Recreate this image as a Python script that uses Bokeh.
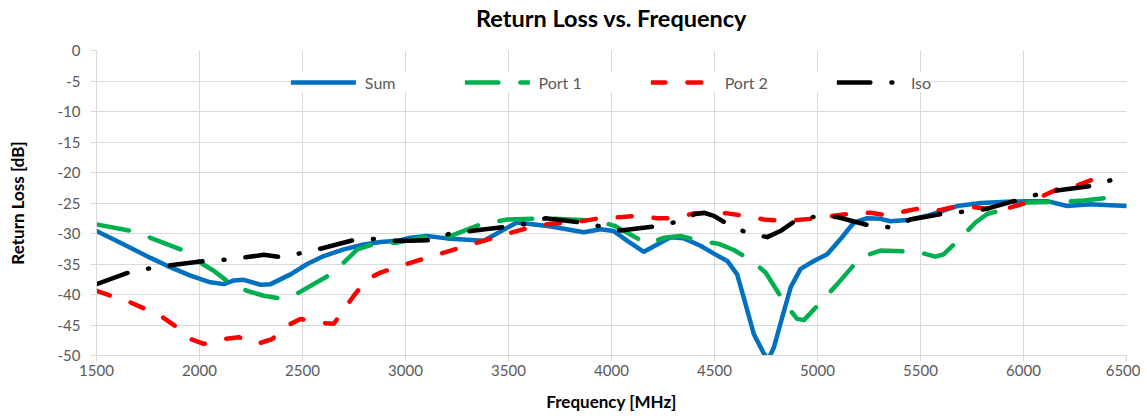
from bokeh.plotting import figure
from bokeh.models import Range1d, FixedTicker, Title
from bokeh.embed import file_html
from bokeh.resources import INLINE

# ---------------- data ----------------
x_ticks = [1500, 2000, 2500, 3000, 3500, 4000, 4500, 5000, 5500, 6000, 6500]
y_ticks = [0, -5, -10, -15, -20, -25, -30, -35, -40, -45, -50]

sum_freq = [1500, 1633, 1762, 1843, 1956, 2053, 2118, 2167, 2215, 2296,
            2345, 2442, 2523, 2603, 2700, 2797, 2879, 2960, 3024, 3105,
            3200, 3380, 3540, 3700, 3865, 3947, 4011, 4077, 4157, 4222,
            4287, 4351, 4432, 4497, 4562, 4610, 4642, 4691, 4740, 4762,
            4789, 4829, 4870, 4918, 4982, 5047, 5112, 5177, 5241, 5306,
            5354, 5435, 5532, 5678, 5791, 5920, 6018, 6115, 6212, 6325, 6500]
sum_rl = [-29.6, -31.8, -34.0, -35.3, -36.9, -38.0, -38.3, -37.7, -37.6, -38.4,
          -38.3, -36.7, -35.0, -33.7, -32.6, -31.8, -31.4, -31.2, -30.7, -30.4,
          -30.8, -31.2, -28.2, -28.8, -29.8, -29.3, -29.6, -31.2, -33.0, -31.8,
          -30.6, -30.8, -32.0, -33.3, -34.5, -36.7, -40.5, -46.5, -49.7, -50.6,
          -48.6, -43.7, -38.8, -35.8, -34.5, -33.4, -30.9, -28.2, -27.5, -27.6,
          -28.0, -27.8, -27.1, -25.5, -25.0, -24.8, -24.7, -24.7, -25.5, -25.2, -25.5]

port1_freq = [1500, 1673, 1762, 1924, 2005, 2069, 2142, 2231, 2312, 2401,
              2482, 2636, 2709, 2766, 2863, 2960, 3120, 3220, 3365, 3495,
              3670, 3930, 4019, 4173, 4254, 4335, 4432, 4521, 4594, 4683,
              4748, 4845, 4901, 4934, 5031, 5096, 5209, 5306, 5484, 5573,
              5613, 5710, 5767, 5824, 5937, 6018, 6196, 6293, 6463]
port1_rl = [-28.5, -29.6, -30.7, -32.8, -34.8, -36.1, -38.0, -39.4, -40.2, -40.7,
            -39.7, -36.7, -34.5, -32.6, -31.6, -31.5, -30.4, -30.4, -28.5, -27.7,
            -27.5, -27.9, -28.8, -31.7, -30.7, -30.4, -31.2, -31.7, -32.7, -34.5,
            -36.4, -41.6, -44.0, -44.2, -40.7, -38.3, -33.9, -32.8, -33.0, -33.8,
            -33.4, -30.2, -28.2, -26.8, -25.8, -24.9, -24.8, -24.6, -23.9]

port2_freq = [1500, 1568, 1665, 1738, 1811, 1892, 1956, 2021, 2118, 2191,
              2280, 2353, 2426, 2490, 2571, 2652, 2709, 2749, 2814, 2879,
              2976, 3024, 3120, 3220, 3300, 3460, 3540, 3625, 3705, 3815,
              3961, 4052, 4131, 4222, 4311, 4399, 4481, 4562, 4650, 4739,
              4820, 4901, 4998, 5079, 5176, 5257, 5338, 5419, 5508, 5589,
              5678, 5759, 5848, 5929, 6018, 6091, 6180, 6261, 6341, 6422]
port2_rl = [-39.4, -40.2, -41.3, -42.4, -43.5, -45.4, -47.3, -48.1, -47.3, -47.0,
            -48.1, -47.3, -45.1, -44.0, -44.6, -44.8, -42.1, -40.2, -37.5, -36.4,
            -35.3, -34.8, -33.8, -32.8, -32.0, -30.4, -29.6, -28.8, -28.4, -28.2,
            -27.4, -27.3, -27.1, -27.5, -27.5, -26.7, -26.7, -26.7, -27.1, -27.7,
            -27.9, -27.8, -27.5, -27.1, -26.7, -26.6, -27.0, -26.4, -25.8, -26.2,
            -25.5, -25.7, -26.0, -25.8, -24.9, -23.9, -22.5, -22.1, -21.1, -20.4]

iso_freq = [1500, 1665, 1759, 1859, 2029, 2126, 2223, 2312, 2401, 2494,
            2587, 2757, 2858, 2951, 3024, 3129, 3218, 3315, 3485, 3590,
            3680, 3850, 3955, 4044, 4222, 4316, 4408, 4448, 4497, 4570,
            4659, 4756, 4820, 4901, 4998, 5095, 5265, 5362, 5451, 5621,
            5718, 5816, 5985, 6078, 6171, 6350, 6438]
iso_rl = [-38.3, -36.3, -35.7, -35.2, -34.5, -34.3, -33.9, -33.5, -33.9, -33.2,
          -32.5, -31.0, -30.9, -31.2, -31.2, -31.1, -30.0, -29.6, -28.9, -28.4,
          -27.5, -28.2, -28.9, -29.5, -28.8, -28.1, -26.8, -26.6, -27.1, -28.6,
          -29.9, -30.6, -29.6, -27.7, -27.2, -27.3, -28.8, -29.0, -27.7, -26.7,
          -26.4, -26.0, -24.4, -23.5, -22.9, -22.1, -21.1]

series_names = ["Sum", "Port 1", "Port 2", "Iso"]

# ---------------- figure ----------------
FONT = "Lato"
GRID = "#d9d9d9"
TXT = "#595959"

p = figure(width=1140, height=419, output_backend="svg", toolbar_location=None,
           x_range=Range1d(1500, 6500), y_range=Range1d(-50, 0),
           min_border_left=96, min_border_right=14, min_border_top=49, min_border_bottom=64,
           background_fill_color="white", border_fill_color="white")
p.outline_line_color = None

p.title.text = "Return Loss vs. Frequency"
p.title.align = "center"
p.title.text_font = FONT
p.title.text_font_size = "23.5px"
p.title.text_font_style = "bold"
p.title.text_color = "#000000"
p.title.standoff = 2

# empty spacer between the title and the plot frame
p.add_layout(Title(text=" ", text_font_size="1px", standoff=15), "above")

p.xaxis.ticker = FixedTicker(ticks=x_ticks)
p.yaxis.ticker = FixedTicker(ticks=y_ticks)
p.xaxis.major_label_overrides = {t: str(t) for t in x_ticks}
p.yaxis.major_label_overrides = {t: str(t) for t in y_ticks}
p.xaxis.axis_label = "Frequency [MHz]"
p.yaxis.axis_label = "Return Loss [dB]"

for ax in (p.xaxis[0], p.yaxis[0]):
    ax.axis_line_color = GRID
    ax.major_tick_line_color = GRID
    ax.major_tick_out = 6
    ax.major_tick_in = 0
    ax.minor_tick_line_color = None
    ax.major_label_text_font = FONT
    ax.major_label_text_font_size = "15px"
    ax.major_label_text_color = TXT
    ax.axis_label_text_font = FONT
    ax.axis_label_text_font_size = "17px"
    ax.axis_label_text_font_style = "bold"
    ax.axis_label_text_color = "#000000"

p.xaxis.major_label_standoff = 3
p.xaxis.axis_label_standoff = 12
p.yaxis.major_label_standoff = 10
p.yaxis.axis_label_standoff = 27

p.xgrid.ticker = FixedTicker(ticks=x_ticks)
p.ygrid.ticker = FixedTicker(ticks=y_ticks)
p.xgrid.grid_line_color = GRID
p.ygrid.grid_line_color = GRID

LW = 4.5
p.line(sum_freq, sum_rl, line_color="#0070C0", line_width=LW, line_cap="round", line_join="round",
       legend_label=series_names[0])
p.line(port1_freq, port1_rl, line_color="#00B050", line_width=LW, line_cap="round", line_join="round",
       line_dash="33 22", legend_label=series_names[1])
p.line(port2_freq, port2_rl, line_color="#FF0000", line_width=LW, line_cap="round", line_join="round",
       line_dash="14 22", legend_label=series_names[2])
p.line(iso_freq, iso_rl, line_color="#000000", line_width=LW, line_cap="round", line_join="round",
       line_dash="33 21 1 21", legend_label=series_names[3])

lg = p.legend[0]
lg.orientation = "horizontal"
lg.location = "top_center"
lg.margin = 22
lg.padding = 8
lg.spacing = 69
lg.glyph_width = 65
lg.glyph_height = 20
lg.label_standoff = 9
lg.label_text_font = FONT
lg.label_text_font_size = "16px"
lg.label_text_color = TXT
lg.border_line_color = None
lg.background_fill_color = "white"
lg.background_fill_alpha = 1.0

open("out.html", "w").write(file_html(p, INLINE))
